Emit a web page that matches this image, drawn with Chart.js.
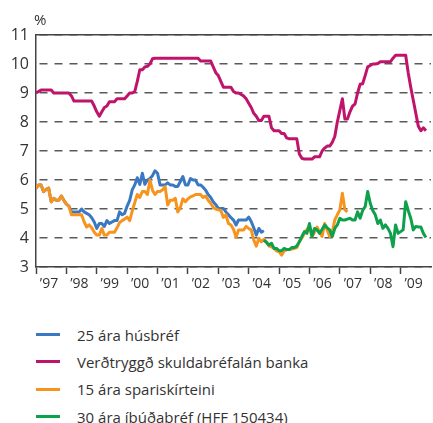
<!DOCTYPE html>
<html lang="is">

<head>
    <meta charset="UTF-8">
    <title>Vextir</title>
    <script src="https://cdn.jsdelivr.net/npm/chart.js"></script>
    <style>
        body { margin: 0; background: #fff; }
        .wrap { width: 433px; height: 423px; position: relative; font-family: 'Open Sans', sans-serif; color: #333; }
        #legend { margin: 21px 0 0 36px; padding: 0; list-style: none; }
        #legend li { height: 27.3px; display: flex; align-items: center; font-size: 15px; line-height: 18px; }
        #legend .swatch { width: 24px; height: 3px; margin-right: 17px; flex: none; }
    </style>
</head>

<body>
    <div class="wrap">
        <canvas id="chart" width="433" height="300"></canvas>
        <ul id="legend"></ul>
    </div>

    <script>
        // monthly values, index 0 = Jan 1997
        const yearLabels = ['\u201997', '\u201998', '\u201999', '\u201900', '\u201901', '\u201902', '\u201903',
            '\u201904', '\u201905', '\u201906', '\u201907', '\u201908', '\u201909'];

        const seriesNames = ['25 ára húsbréf', 'Verðtryggð skuldabréfalán banka', '15 ára spariskírteini', '30 ára íbúðabréf (HFF 150434)'];
        const seriesColors = ['#3a78c2', '#c0146c', '#f7941d', '#0ea14b'];

        const husbref = [
            5.71, 5.83, 5.83, 5.6, 5.68, 5.72, 5.25, 5.37, 5.3, 5.3, 5.45, 5.3,
            5.17, 5.1, 4.9, 4.9, 4.9, 4.9, 5.0, 4.9, 4.85, 4.8, 4.7, 4.55,
            4.33, 4.5, 4.5, 4.4, 4.6, 4.5, 4.55, 4.6, 4.6, 4.9, 4.8, 4.85,
            5.1, 5.3, 5.66, 5.83, 6.08, 5.85, 6.23, 5.85, 6.0, 6.05, 6.15, 6.32,
            6.23, 5.83, 5.83, 5.83, 5.9, 5.83, 5.83, 5.78, 5.78, 5.95, 6.12, 5.83,
            5.83, 6.05, 6.0, 6.0, 5.83, 5.83, 5.75, 5.65, 5.5, 5.4, 5.25, 5.15,
            5.02, 5.02, 5.02, 4.9, 4.8, 4.7, 4.62, 4.45, 4.62, 4.62, 4.62, 4.62,
            4.72, 4.57, 4.35, 4.1, 4.33, 4.2, 4.25
        ];

        const bankalan = [
            9.0, 9.05, 9.1, 9.1, 9.1, 9.1, 9.1, 9.0, 9.0, 9.0, 9.0, 9.0,
            9.0, 9.0, 8.9, 8.72, 8.72, 8.72, 8.72, 8.72, 8.72, 8.72, 8.72, 8.55,
            8.35, 8.2, 8.35, 8.5, 8.55, 8.7, 8.7, 8.7, 8.8, 8.8, 8.8, 8.8,
            8.9, 9.0, 9.0, 9.05, 9.4, 9.8, 9.8, 9.9, 9.92, 10.0, 10.18, 10.2,
            10.2, 10.2, 10.2, 10.2, 10.2, 10.2, 10.2, 10.2, 10.2, 10.2, 10.2, 10.2,
            10.2, 10.2, 10.2, 10.2, 10.2, 10.1, 10.1, 10.1, 10.1, 10.1, 9.9, 9.7,
            9.6, 9.4, 9.2, 9.2, 9.2, 9.2, 9.05, 9.0, 9.0, 8.95, 8.9, 8.8,
            8.65, 8.5, 8.3, 8.2, 8.05, 8.05, 8.2, 8.2, 8.2, 7.8, 7.7, 7.7,
            7.7, 7.6, 7.6, 7.45, 7.42, 7.42, 7.42, 7.42, 6.9, 6.75, 6.72, 6.72,
            6.72, 6.72, 6.8, 6.8, 6.8, 7.0, 7.1, 7.17, 7.17, 7.3, 7.5, 8.0,
            8.4, 8.8, 8.1, 8.1, 8.35, 8.55, 8.62, 9.0, 9.3, 9.32, 9.6, 9.9,
            9.95, 10.0, 10.0, 10.02, 10.08, 10.08, 10.08, 10.08, 10.08, 10.2, 10.3, 10.3,
            10.3, 10.3, 10.3, 9.7, 9.2, 8.75, 8.3, 7.85, 7.7, 7.8, 7.7
        ];

        const spariskirteini = [
            5.71, 5.83, 5.83, 5.6, 5.68, 5.72, 5.25, 5.37, 5.3, 5.3, 5.45, 5.3,
            5.17, 5.1, 4.8, 4.8, 4.8, 4.8, 4.8, 4.56, 4.38, 4.45, 4.35, 4.2,
            4.1, 4.1, 4.33, 4.1, 4.1, 4.2, 4.2, 4.2, 4.35, 4.53, 4.6, 4.65,
            4.72, 4.6, 4.93, 5.22, 5.5, 5.4, 5.6, 5.6, 5.5, 6.0, 5.65, 5.5,
            5.6, 5.6, 5.66, 5.77, 5.14, 5.3, 5.3, 5.37, 4.9, 5.05, 5.35, 5.25,
            5.35, 5.42, 5.45, 5.5, 5.5, 5.5, 5.4, 5.45, 5.3, 5.2, 5.05, 5.0,
            4.97, 4.95, 4.71, 4.8, 4.5, 4.45, 4.3, 4.02, 4.28, 4.28, 4.28, 4.4,
            4.33, 4.28, 3.93, 3.72, 3.99, 3.87, 3.95, 3.87, 3.72, 3.7, 3.64, 3.55,
            3.53, 3.41, 3.55, 3.6, 3.6, 3.62, 3.64, 3.67, 3.87, 4.0, 4.16, 4.3,
            4.38, 4.05, 4.2, 4.38, 4.2, 4.05, 4.5, 4.28, 4.05, 4.2, 4.62, 4.8,
            4.97, 5.54, 4.97, 4.9
        ];

        // starts Jul 2004
        const ibudabrefStart = 90;
        const ibudabref = [
            3.93, 3.85, 3.76, 3.82, 3.64, 3.64,
            3.56, 3.56, 3.64, 3.6, 3.6, 3.67, 3.67, 3.72, 3.87, 4.05, 4.22, 4.16,
            4.5, 4.05, 4.33, 4.28, 4.16, 4.3, 4.45, 4.35, 4.28, 4.05, 4.33, 4.45,
            4.68, 4.62, 4.62, 4.65, 4.68, 4.62, 4.62, 4.9, 4.68, 4.95, 5.08, 5.6,
            5.2, 4.95, 4.8, 4.5, 4.62, 4.33, 4.45, 4.33, 4.16, 3.7, 4.45, 4.16,
            4.22, 4.28, 5.25, 4.95, 4.68, 4.28, 4.4, 4.38, 4.38, 4.16, 4.02
        ];

        const toPoints = (vals, start) => vals.map((v, i) => ({ x: start + i, y: v }));
        const fontFamily = "'Open Sans', sans-serif";

        // "%" above the y axis
        const percentLabel = {
            id: 'percentLabel',
            afterDraw(chart) {
                const ctx = chart.ctx;
                ctx.save();
                ctx.font = "15px " + fontFamily;
                ctx.fillStyle = '#333';
                ctx.textBaseline = 'middle';
                ctx.fillText('%', chart.chartArea.left - 2, 21);
                ctx.restore();
            }
        };

        const ctx = document.getElementById('chart').getContext('2d');
        const chart = new Chart(ctx, {
            type: 'line',
            data: {
                datasets: [
                    { label: seriesNames[0], data: toPoints(husbref, 0), borderColor: seriesColors[0], order: 2 },
                    { label: seriesNames[1], data: toPoints(bankalan, 0), borderColor: seriesColors[1], order: 3 },
                    { label: seriesNames[2], data: toPoints(spariskirteini, 0), borderColor: seriesColors[2], order: 1 },
                    { label: seriesNames[3], data: toPoints(ibudabref, ibudabrefStart), borderColor: seriesColors[3], order: 0 }
                ]
            },
            options: {
                responsive: false,
                animation: false,
                layout: { padding: 0 },
                elements: {
                    point: { radius: 0 },
                    line: { borderWidth: 3, tension: 0, borderJoinStyle: 'round', fill: false }
                },
                plugins: {
                    legend: { display: false },
                    tooltip: { enabled: false }
                },
                scales: {
                    x: {
                        type: 'linear',
                        position: 'bottom',
                        min: 0,
                        max: 156,
                        afterBuildTicks: function (scale) {
                            scale.ticks = yearLabels.map((l, i) => ({ value: i * 12 })).concat([{ value: 156 }]);
                        },
                        afterFit: function (scale) { scale.height = 33; },
                        ticks: {
                            autoSkip: false,
                            maxRotation: 0,
                            labelOffset: 13,
                            padding: 2,
                            color: '#333',
                            font: { family: fontFamily, size: 14 },
                            callback: function (value) {
                                return yearLabels[value / 12] || '';
                            }
                        },
                        grid: {
                            drawOnChartArea: false,
                            tickLength: 7,
                            tickWidth: 1.5,
                            tickColor: function (c) {
                                return c.tick && c.tick.value === 156 ? 'rgba(0,0,0,0)' : '#444';
                            }
                        },
                        border: { color: '#444', width: 1.5 }
                    },
                    xTop: {
                        axis: 'x',
                        type: 'linear',
                        position: 'top',
                        min: 0,
                        max: 156,
                        ticks: { display: false },
                        grid: { display: false },
                        border: { color: '#444', width: 1.5 },
                        afterFit: function (scale) { scale.height = 35; }
                    },
                    y: {
                        min: 3,
                        max: 11,
                        afterFit: function (scale) { scale.width = 36; },
                        ticks: {
                            stepSize: 1,
                            padding: 7,
                            color: '#333',
                            font: { family: fontFamily, size: 16 }
                        },
                        grid: {
                            color: '#5a5a5a',
                            lineWidth: 1.5,
                            drawTicks: false
                        },
                        border: { color: '#444', width: 1.5, dash: [8, 7], dashOffset: -3 }
                    }
                }
            },
            plugins: [percentLabel]
        });

        // legend as a vertical list
        const legend = document.getElementById('legend');
        chart.data.datasets.forEach(function (ds) {
            const li = document.createElement('li');
            const sw = document.createElement('span');
            sw.className = 'swatch';
            sw.style.background = ds.borderColor;
            li.appendChild(sw);
            li.appendChild(document.createTextNode(ds.label));
            legend.appendChild(li);
        });
    </script>
</body>

</html>
